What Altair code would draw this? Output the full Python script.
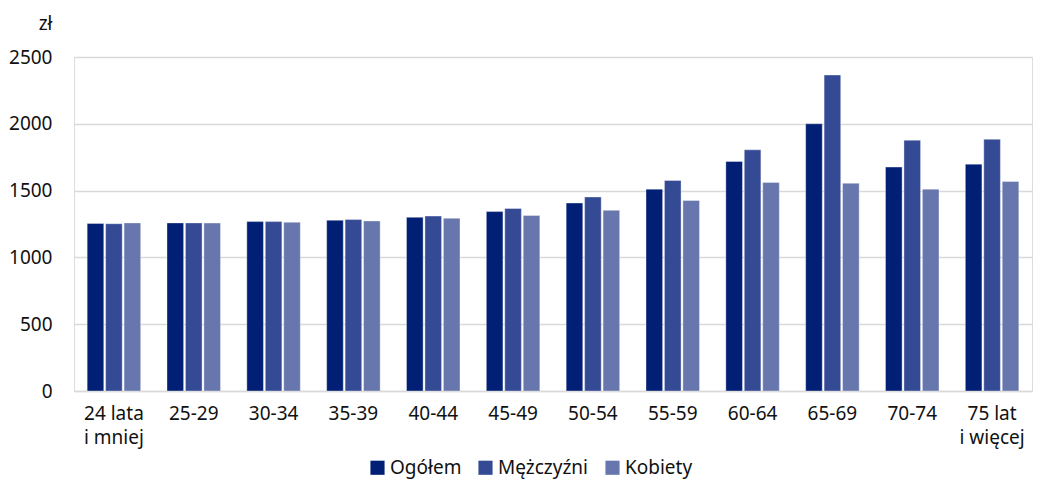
import altair as alt
import pandas as pd

categories = ["24 lata|i mniej", "25-29", "30-34", "35-39", "40-44", "45-49",
              "50-54", "55-59", "60-64", "65-69", "70-74", "75 lat|i więcej"]
series = ["Ogółem", "Mężczyźni", "Kobiety"]
ogolem = [1254, 1258, 1268, 1278, 1300, 1343, 1407, 1511, 1718, 2000, 1676, 1698]
mezczyzni = [1252, 1258, 1268, 1283, 1309, 1366, 1452, 1576, 1805, 2365, 1877, 1884]
kobiety = [1258, 1257, 1263, 1273, 1293, 1314, 1352, 1426, 1561, 1555, 1511, 1568]
colors = ["#001f75", "#344a94", "#6777ad"]

rows = []
for name, vals in zip(series, [ogolem, mezczyzni, kobiety]):
    for c, v in zip(categories, vals):
        rows.append({"kat": c, "seria": name, "wartosc": v})
df = pd.DataFrame(rows)

FONT = "Noto Sans"
FS = 19

chart = alt.Chart(df).mark_bar(stroke="#ffffff", strokeWidth=0.6, strokeOpacity=0.6).encode(
    x=alt.X("kat:N", sort=categories, title=None,
            scale=alt.Scale(paddingInner=0.33, paddingOuter=0.165),
            axis=alt.Axis(labelAngle=0, labelExpr="split(datum.label, '|')",
                          labelFontSize=FS, labelColor="#111111", labelFont=FONT,
                          labelPadding=22, labelLineHeight=24.5, ticks=False,
                          labelBaseline="middle",
                          domainColor="#d9d9d9", domainWidth=1.5, grid=False)),
    xOffset=alt.XOffset("seria:N", sort=series,
                        scale=alt.Scale(paddingInner=0.1)),
    y=alt.Y("wartosc:Q", title="zł",
            scale=alt.Scale(domain=[0, 2500]),
            axis=alt.Axis(values=[0, 500, 1000, 1500, 2000, 2500], format="d",
                          ticks=False, domain=False,
                          labelFontSize=FS, labelColor="#111111", labelFont=FONT,
                          labelPadding=22, gridColor="#d9d9d9", gridWidth=1.5,
                          titleAngle=0, titleAlign="right", titleBaseline="middle",
                          titleX=-22, titleY=-34, titleFontSize=FS,
                          titleFontWeight="normal", titleColor="#111111", titleFont=FONT)),
    color=alt.Color("seria:N", sort=series,
                    scale=alt.Scale(domain=series, range=colors),
                    legend=alt.Legend(title=None, orient="none", direction="horizontal",
                                      legendX=294, legendY=401,
                                      symbolType="square", symbolSize=200,
                                      symbolStrokeWidth=0, labelFontSize=FS,
                                      labelFont=FONT, labelColor="#111111",
                                      columnPadding=14, labelOffset=3)),
).properties(
    width=958, height=334
).configure_view(stroke=None).configure(padding={"left": 0, "top": 6, "right": 5, "bottom": 6})

chart.save("out.html", embed_options={"renderer": "svg", "actions": False})
